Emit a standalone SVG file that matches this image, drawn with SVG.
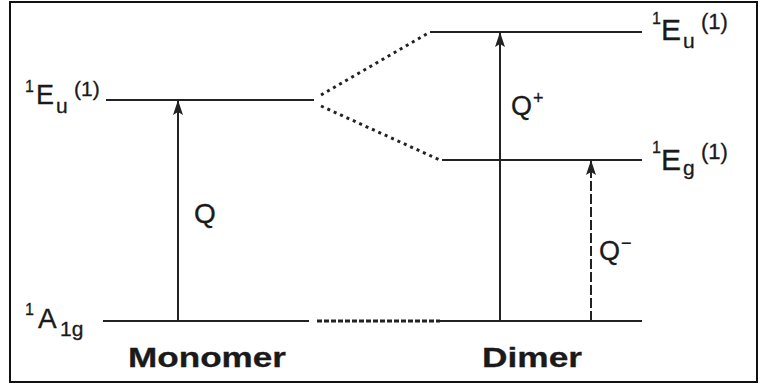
<svg xmlns="http://www.w3.org/2000/svg" width="763" height="387" viewBox="0 0 763 387">
<style>
.lvl{stroke:#222;stroke-width:2;fill:none}
.dot{stroke:#222;stroke-width:3;fill:none;stroke-dasharray:3 4}
.arr{stroke:#222;stroke-width:2;fill:none}
.dash{stroke-dasharray:10 3}
text{font-family:"Liberation Sans",Arial,sans-serif;fill:#1a1a1a;stroke:#1a1a1a;stroke-width:0.3}
.b{font-weight:bold}
</style>
<defs>
<marker id="ah" markerUnits="userSpaceOnUse" markerWidth="15" markerHeight="10" refX="14" refY="5" orient="auto">
<path d="M0,0 L15,5 L0,10 L3,5 z" fill="#222"/>
</marker>
</defs>
<rect x="10" y="2" width="747" height="380" fill="#fff" stroke="#111" stroke-width="2"/>

<g id="mono-Eu">
<line class="lvl" x1="106" y1="100" x2="314" y2="100"/>
<text><tspan x="25" y="92" font-size="16">1</tspan><tspan x="36" y="104" font-size="27">E</tspan><tspan x="56" y="113" font-size="21">u</tspan><tspan x="74" y="96" font-size="21">(1)</tspan></text>
</g>
<g id="mono-A1g">
<line class="lvl" x1="103" y1="321" x2="309" y2="321"/>
<text><tspan x="25" y="315" font-size="16">1</tspan><tspan x="38" y="328" font-size="28">A</tspan><tspan x="60" y="336" font-size="21">1g</tspan></text>
</g>
<g id="dimer-Eu">
<line class="lvl" x1="430" y1="32" x2="642" y2="32"/>
<text><tspan x="652" y="24" font-size="16">1</tspan><tspan x="661" y="40" font-size="30">E</tspan><tspan x="683" y="48" font-size="21">u</tspan><tspan x="701" y="29" font-size="22">(1)</tspan></text>
</g>
<g id="dimer-Eg">
<line class="lvl" x1="442" y1="160" x2="642" y2="160"/>
<text><tspan x="652" y="153" font-size="16">1</tspan><tspan x="661" y="170" font-size="30">E</tspan><tspan x="683" y="175" font-size="21">g</tspan><tspan x="701" y="159" font-size="22">(1)</tspan></text>
</g>
<g id="dimer-A1g">
<line class="lvl" x1="440" y1="321" x2="642" y2="321"/>
</g>

<g id="connectors">
<line class="dot" x1="321" y1="95" x2="430" y2="32"/>
<line class="dot" x1="321" y1="106" x2="442" y2="161"/>
<line class="dot" x1="317" y1="321" x2="440" y2="321" style="stroke-dasharray:5 2"/>
<line class="arr" x1="178" y1="321" x2="178" y2="101" marker-end="url(#ah)"/>
<line class="arr" x1="500" y1="321" x2="500" y2="33" marker-end="url(#ah)"/>
<line class="arr dash" x1="591" y1="321" x2="591" y2="161" marker-end="url(#ah)"/>
</g>

<g id="labels">
<text x="194" y="223" font-size="28">Q</text>
<text><tspan x="511" y="115" font-size="27">Q</tspan><tspan x="533" y="104" font-size="18">+</tspan></text>
<text><tspan x="599" y="260" font-size="27">Q</tspan><tspan x="621" y="249" font-size="18">−</tspan></text>
<text class="b" x="128" y="367" font-size="28" textLength="158" lengthAdjust="spacingAndGlyphs">Monomer</text>
<text class="b" x="482" y="367" font-size="28" textLength="100" lengthAdjust="spacingAndGlyphs">Dimer</text>
</g>
</svg>
